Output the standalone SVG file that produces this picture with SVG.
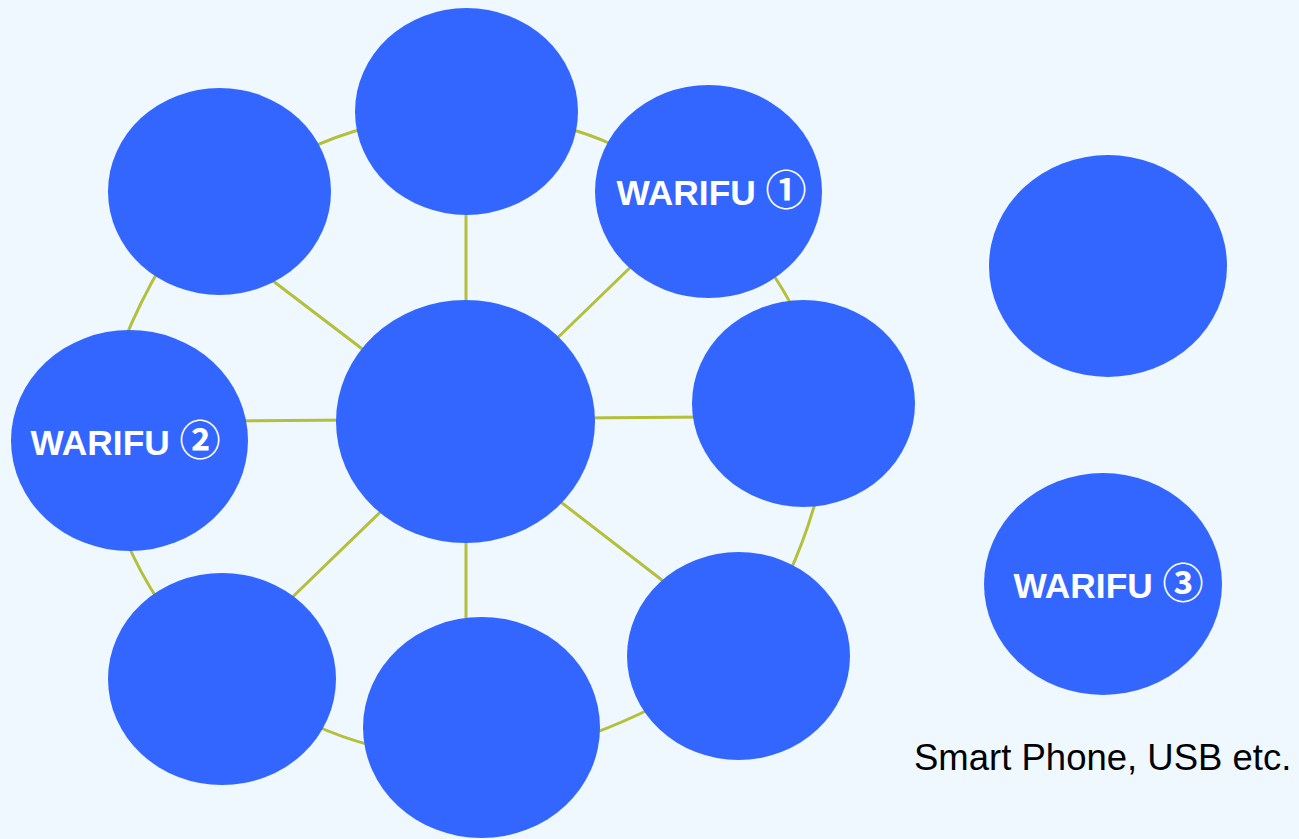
<svg xmlns="http://www.w3.org/2000/svg" width="1299" height="839" viewBox="0 0 1299 839">
<style>
.node{fill:#3366ff}
.edge{fill:none;stroke:#b4bf3a;stroke-width:3}
.lbl{font-family:"Liberation Sans","Noto Sans CJK JP",sans-serif;font-weight:bold;font-size:35.3px;fill:#ffffff;text-anchor:middle}
.num{font-size:41px}
.note{font-family:"Liberation Sans",Arial,sans-serif;font-size:36.5px;fill:#000000}
</style>
<rect width="1299" height="839" fill="#f0f8ff"/>
<g id="connectors">
<line class="edge" x1="466" y1="200" x2="466" y2="320"/>
<line class="edge" x1="640" y1="258" x2="545" y2="350"/>
<line class="edge" x1="575" y1="418" x2="710" y2="417"/>
<line class="edge" x1="540" y1="486" x2="680" y2="594"/>
<line class="edge" x1="466" y1="520" x2="466" y2="640"/>
<line class="edge" x1="400" y1="493" x2="275" y2="614"/>
<line class="edge" x1="230" y1="421" x2="356" y2="420"/>
<line class="edge" x1="256" y1="268" x2="382" y2="364"/>
<path class="edge" d="M306,150 Q336.5,135.7 369,127"/>
<path class="edge" d="M566,128 Q589,134 611,144"/>
<path class="edge" d="M770,270 Q784,290 795,312"/>
<path class="edge" d="M817,496 Q806,537 788,576"/>
<path class="edge" d="M654,707 Q622,723 589,735"/>
<path class="edge" d="M374,746 Q342,738 312,724"/>
<path class="edge" d="M160,603 Q140,573 126,540"/>
<path class="edge" d="M124,341 Q140,302 161,266"/>
</g>
<g id="node-center"><ellipse class="node" cx="465.5" cy="421.5" rx="129.5" ry="121.5"/></g>
<g id="node-top"><ellipse class="node" cx="466.5" cy="111.5" rx="111.5" ry="103.5"/></g>
<g id="node-top-left"><ellipse class="node" cx="219.5" cy="191.5" rx="111.5" ry="103.5"/></g>
<g id="node-warifu1"><ellipse class="node" cx="708.5" cy="191.5" rx="113.5" ry="106.5"/><text class="lbl" x="711.5" y="205">WARIFU <tspan class="num">①</tspan></text></g>
<g id="node-right"><ellipse class="node" cx="803.5" cy="403.5" rx="111.5" ry="103.5"/></g>
<g id="node-warifu2"><ellipse class="node" cx="129.5" cy="440.5" rx="118.5" ry="110.5"/><text class="lbl" x="125.5" y="455">WARIFU <tspan class="num">②</tspan></text></g>
<g id="node-bottom-left"><ellipse class="node" cx="222" cy="679" rx="114" ry="106"/></g>
<g id="node-bottom"><ellipse class="node" cx="481.5" cy="727.5" rx="118.5" ry="110.5"/></g>
<g id="node-bottom-right"><ellipse class="node" cx="738.5" cy="656" rx="111.5" ry="104"/></g>
<g id="node-far-right"><ellipse class="node" cx="1108" cy="266" rx="119" ry="111"/></g>
<g id="node-warifu3"><ellipse class="node" cx="1103" cy="584" rx="119" ry="111"/><text class="lbl" x="1108.5" y="598">WARIFU <tspan class="num">③</tspan></text></g>
<text class="note" x="914" y="770">Smart Phone, USB etc.</text>
</svg>
